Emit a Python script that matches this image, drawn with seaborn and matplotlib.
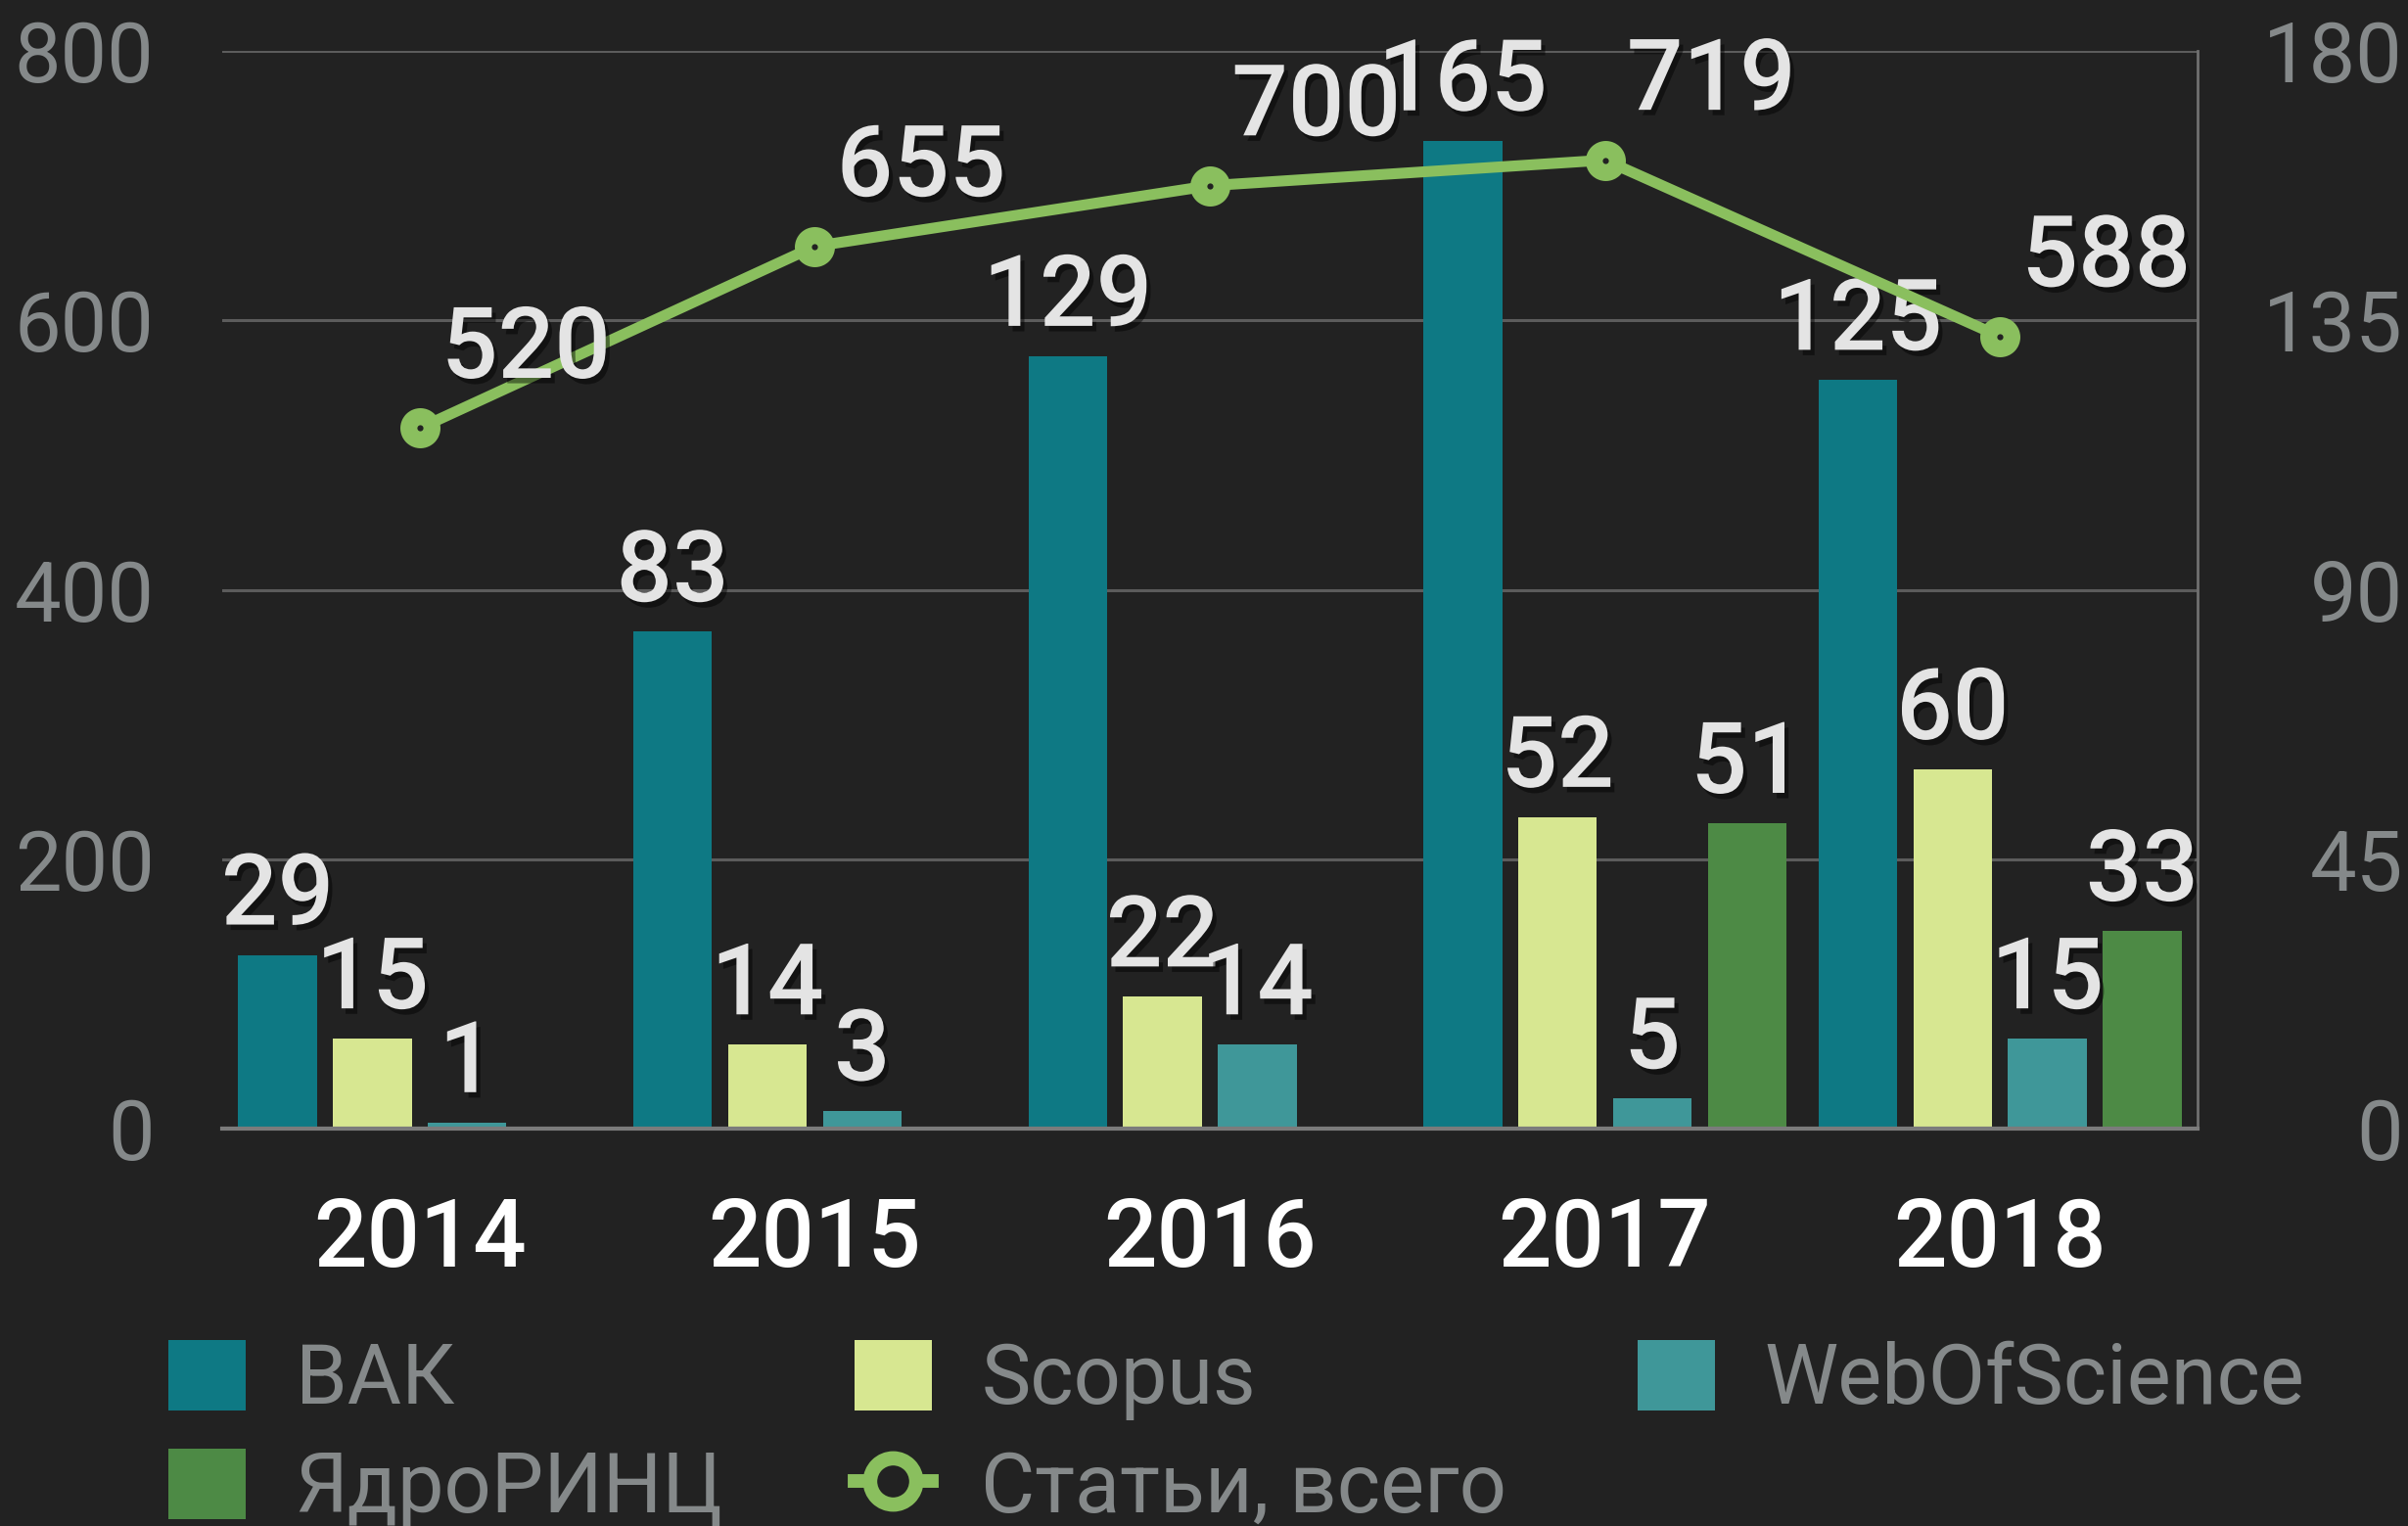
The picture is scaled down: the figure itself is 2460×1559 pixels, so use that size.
import numpy as np
import pandas as pd
import matplotlib
matplotlib.use("Agg")
import matplotlib.pyplot as plt
import matplotlib.patheffects as pe
from matplotlib.patches import Patch
from matplotlib.lines import Line2D
import seaborn as sns

# ---- data ----
years = ["2014", "2015", "2016", "2017", "2018"]
vak = [29, 83, 129, 165, 125]
scopus = [15, 14, 22, 52, 60]
wos = [1, 3, 14, 5, 15]
yadro = [np.nan, np.nan, np.nan, 51, 33]
total = [520, 655, 700, 719, 588]
series_names = ["ВАК", "Scopus", "WebOfScience", "ЯдроРИНЦ"]
line_name = "Статьи, всего"
left_ticks = [0, 200, 400, 600, 800]
right_ticks = [0, 45, 90, 135, 180]

# ---- style ----
BG = "#222222"
colors = {"ВАК": "#0e7984", "Scopus": "#d7e791", "WebOfScience": "#3f9799", "ЯдроРИНЦ": "#4d8a45"}
LINE = "#8abf5e"
TICK = "#85898a"
GRID = "#5c5c5c"
LABEL = "#e4e4e4"
FONT = ["Roboto", "DejaVu Sans"]
plt.rcParams["font.family"] = FONT

df = pd.DataFrame({
    "year": np.repeat(years, 4),
    "source": series_names * len(years),
    "value": np.ravel(np.column_stack([vak, scopus, wos, yadro])),
})

fig = plt.figure(figsize=(24.6, 15.59), dpi=100, facecolor=BG)
ax = fig.add_axes([0.0923, 0.2604, 0.8203, 0.7062])
ax.set_facecolor(BG)

sns.barplot(data=df, x="year", y="value", hue="source", hue_order=series_names,
            palette=colors, width=0.96, gap=0.17, saturation=1, linewidth=0,
            legend=False, ax=ax, errorbar=None)
ax.set_xlim(-0.5, 4.5)
ax.set_ylim(0, 180)
ax.set_yticks(right_ticks)
ax.set_xlabel("")
ax.set_ylabel("")
ax.grid(axis="y", color=GRID, linewidth=2.2)
ax.grid(axis="x", visible=False)
ax.set_axisbelow(True)
for s in ["top", "left"]:
    ax.spines[s].set_visible(False)
ax.spines["right"].set_color("#707070")
ax.spines["right"].set_linewidth(2)
ax.spines["bottom"].set_color("#7b7b7b")
ax.spines["bottom"].set_linewidth(3)
ax.tick_params(axis="x", length=0, pad=50, labelsize=69, labelcolor="white")
for t in ax.get_xticklabels():
    t.set_fontweight("medium")

shadow = [pe.withSimplePatchShadow(offset=(3, -4), shadow_rgbFace="black", alpha=0.45)]

for cont in ax.containers:
    labels = ["" if np.isnan(v) else f"{int(v)}" for v in cont.datavalues]
    txts = ax.bar_label(cont, labels=labels, padding=8, fontsize=73, color=LABEL,
                        fontweight="medium")
    for t in txts:
        t.set_path_effects(shadow)

# line on twin axis (left scale)
ax2 = ax.twinx()
sns.lineplot(x=np.arange(len(years)), y=total, ax=ax2, color=LINE, linewidth=8,
             marker="o", markersize=17, markerfacecolor=BG, markeredgecolor=LINE,
             markeredgewidth=12.5)
ax2.set_ylim(0, 800)
ax2.set_yticks(left_ticks)
ax2.yaxis.tick_left()
ax2.tick_params(axis="y", length=0, pad=50, labelsize=61, labelcolor=TICK)
for s in ax2.spines.values():
    s.set_visible(False)
ax2.grid(False)
for i, v in enumerate(total):
    ax2.annotate(f"{v}", (i, v), xytext=(16, 37), textcoords="offset points",
                 ha="left", va="baseline", fontsize=73, color=LABEL,
                 fontweight="medium", path_effects=shadow)

# bar scale ticks on the right (set after twinx, which resets them)
ax.yaxis.tick_right()
ax.tick_params(axis="y", length=0, pad=151, labelsize=61, labelcolor=TICK)
for tk in ax.yaxis.get_major_ticks():
    tk.label2.set_horizontalalignment("right")

# legend
handles = [
    Patch(facecolor=colors["ВАК"], label="ВАК"),
    Patch(facecolor=colors["ЯдроРИНЦ"], label="ЯдроРИНЦ"),
    Patch(facecolor=colors["Scopus"], label="Scopus"),
    Line2D([0], [0], color=LINE, linewidth=10, marker="o", markersize=34,
           markerfacecolor=BG, markeredgecolor=LINE, markeredgewidth=10.5, label=line_name),
    Patch(facecolor=colors["WebOfScience"], label="WebOfScience"),
]
fig.legend(handles=handles, loc="upper left", bbox_to_anchor=(172 / 2460, 1 - 1369 / 1559),
           ncol=3, frameon=False, fontsize=61, labelcolor=TICK, handlelength=0.93,
           handleheight=0.93, handletextpad=0.6, columnspacing=1.58, labelspacing=0.34,
           borderpad=0, borderaxespad=0)

fig.savefig("out.png", dpi=100, facecolor=BG)
